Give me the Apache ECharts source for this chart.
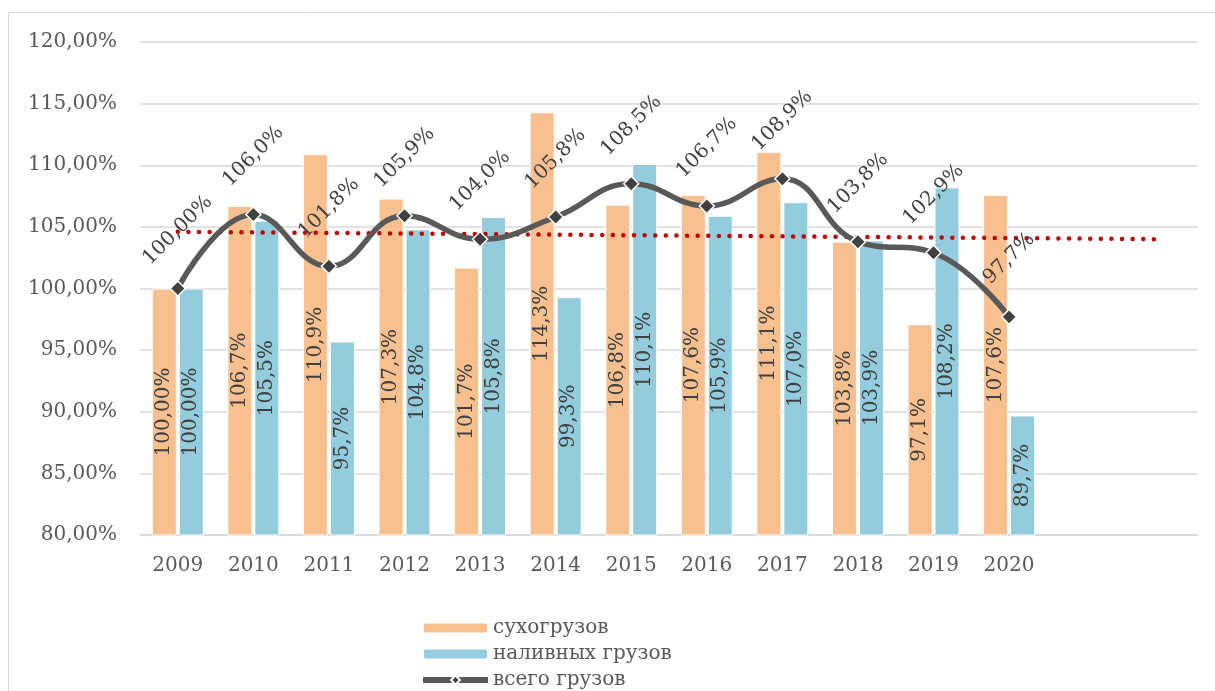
<!DOCTYPE html>
<html>
<head>
<meta charset="utf-8">
<script src="https://cdn.jsdelivr.net/npm/echarts@6/dist/echarts.min.js"></script>
<style>
  html, body { margin: 0; padding: 0; background: #fff; }
  #chart { width: 1215px; height: 691px; }
</style>
</head>
<body>
<div id="chart"></div>
<script>
  // годы (две пустые категории справа под продолжение тренда)
  var years = ['2009', '2010', '2011', '2012', '2013', '2014', '2015', '2016', '2017', '2018', '2019', '2020', '', ''];
  var dryCargo = [100.0, 106.7, 110.9, 107.3, 101.7, 114.3, 106.8, 107.6, 111.1, 103.8, 97.1, 107.6];   // сухогрузов
  var liquidCargo = [100.0, 105.5, 95.7, 104.8, 105.8, 99.3, 110.1, 105.9, 107.0, 103.9, 108.2, 89.7]; // наливных грузов
  var totalCargo = [100.0, 106.0, 101.8, 105.9, 104.0, 105.8, 108.5, 106.7, 108.9, 103.8, 102.9, 97.7]; // всего грузов
  // линия тренда: начало (2009) и конец (прогноз)
  var trendLine = [104.6, null, null, null, null, null, null, null, null, null, null, null, null, 104.0];

  var font = 'DejaVu Serif';
  var textColor = '#595959';

  function pct(v) {
    if (v === 100) return '100,00%';
    return v.toFixed(1).replace('.', ',') + '%';
  }

  var chart = echarts.init(document.getElementById('chart'));
  chart.setOption({
    animation: false,
    textStyle: { fontFamily: font },
    graphic: [{
      type: 'rect',
      shape: { x: 8.5, y: 12.5, width: 1220, height: 700 },
      style: { fill: 'none', stroke: '#d9d9d9', lineWidth: 1 }
    }],
    grid: { left: 140, right: 17, top: 42, bottom: 156 },
    legend: {
      orient: 'vertical',
      left: 415,
      top: 613,
      height: 120,
      itemWidth: 65,
      itemHeight: 11,
      itemGap: 6,
      textStyle: { fontFamily: font, fontSize: 20, color: textColor },
      data: [
        'сухогрузов',
        'наливных грузов',
        { name: 'всего грузов', lineStyle: { width: 6 } }
      ]
    },
    xAxis: {
      type: 'category',
      data: years,
      axisLine: { lineStyle: { color: '#d9d9d9', width: 1.5 } },
      axisTick: { show: false },
      axisLabel: { fontFamily: font, fontSize: 20, color: textColor, margin: 21, interval: 0 }
    },
    yAxis: {
      type: 'value',
      min: 80,
      max: 120,
      interval: 5,
      axisLine: { show: false },
      axisTick: { show: false },
      splitLine: { lineStyle: { color: '#d9d9d9', width: 1.5 } },
      axisLabel: {
        fontFamily: font, fontSize: 20, color: textColor, margin: 23,
        formatter: function (v) { return v.toFixed(2).replace('.', ',') + '%'; }
      }
    },
    series: [
      {
        name: 'сухогрузов',
        type: 'bar',
        data: dryCargo,
        barWidth: 25,
        barGap: '8%',
        itemStyle: { color: '#F9C08F', borderColor: '#fff', borderWidth: 1 },
        label: {
          show: true, position: 'inside', rotate: 90,
          fontFamily: font, fontSize: 20, color: '#404040',
          formatter: function (p) { return pct(p.value); }
        }
      },
      {
        name: 'наливных грузов',
        type: 'bar',
        data: liquidCargo,
        barWidth: 25,
        itemStyle: { color: '#93CDDD', borderColor: '#fff', borderWidth: 1 },
        label: {
          show: true, position: 'inside', rotate: 90,
          fontFamily: font, fontSize: 20, color: '#404040',
          formatter: function (p) { return pct(p.value); }
        }
      },
      {
        name: 'всего грузов',
        type: 'line',
        data: totalCargo,
        smooth: 0.45,
        symbol: 'diamond',
        symbolSize: 15,
        lineStyle: { color: '#595959', width: 5.5 },
        itemStyle: { color: '#404040', borderColor: '#fff', borderWidth: 1.5 },
        label: {
          show: true, position: 'top', distance: 50, rotate: 45,
          align: 'center', verticalAlign: 'middle',
          fontFamily: font, fontSize: 20, color: '#404040',
          formatter: function (p) { return pct(p.value); }
        },
        z: 5
      },
      {
        name: 'тренд',
        type: 'line',
        data: trendLine,
        connectNulls: true,
        symbol: 'none',
        silent: true,
        lineStyle: { color: '#C00000', width: 4.5, type: [0.01, 10.6], cap: 'round' },
        z: 4
      }
    ]
  });
</script>
</body>
</html>
